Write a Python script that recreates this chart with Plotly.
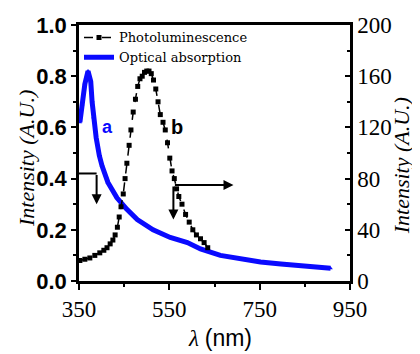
import plotly.graph_objects as go

# Photoluminescence (right axis, A.U. 0-200)
pl_nm = [352, 363, 374, 385, 396, 405, 412, 419, 425, 430, 435, 439, 443, 448, 452, 456,
         461, 465, 470, 475, 480, 485, 490, 495, 500, 505, 510, 515, 520, 525, 530, 536,
         541, 546, 551, 556, 561, 566, 571, 578, 586, 594, 602, 610, 619, 627, 635]
pl_val = [16, 17, 18, 20, 22, 24, 26, 29, 32, 36, 42, 50, 58, 68, 80, 92,
          106, 118, 132, 142, 152, 158, 160, 163, 164, 164, 162, 157, 150, 140, 130, 124,
          118, 108, 96, 86, 80, 72, 66, 60, 52, 46, 40, 36, 33, 30, 26]

# Optical absorption (left axis, A.U. 0-1)
ab_nm = [352, 357, 363, 370, 376, 379, 382, 388, 395, 401, 414, 434, 456, 479, 514, 552,
         590, 619, 663, 707, 752, 797, 841, 878, 907]
ab_val = [0.62, 0.69, 0.77, 0.82, 0.78, 0.70, 0.64, 0.56, 0.49, 0.45, 0.385, 0.325, 0.28, 0.24,
          0.20, 0.17, 0.15, 0.125, 0.10, 0.086, 0.074, 0.066, 0.059, 0.055, 0.05]

x_ticks = [350, 550, 750, 950]
y1_ticks = [0.0, 0.2, 0.4, 0.6, 0.8, 1.0]
y2_ticks = [0, 40, 80, 120, 160, 200]

SERIF = "Liberation Serif"
SANS = "Liberation Sans"
BLUE = "#0a0aff"

fig = go.Figure()
fig.add_trace(go.Scatter(
    x=pl_nm, y=pl_val, yaxis="y2", name="Photoluminescence",
    mode="lines+markers",
    line=dict(color="black", width=1.5, dash="dash"),
    marker=dict(symbol="square", size=5, color="black"),
))
fig.add_trace(go.Scatter(
    x=ab_nm, y=ab_val, yaxis="y", name="Optical absorption",
    mode="lines+markers",
    line=dict(color=BLUE, width=5),
    marker=dict(symbol="triangle-up", size=4, color=BLUE),
))

axis_common = dict(showline=True, linecolor="black", linewidth=2.5, showgrid=False,
                   zeroline=False, tickcolor="black", tickwidth=2, automargin=False)

# page body has an 8px margin, so the figure is 8px smaller and shifted
fig.update_layout(
    width=412, height=346,
    margin=dict(l=71, r=70, t=17, b=73),
    paper_bgcolor="white", plot_bgcolor="white",
    showlegend=True,
    legend=dict(x=0.0, y=1.01, xanchor="left", yanchor="top",
                bgcolor="rgba(0,0,0,0)", font=dict(family="DejaVu Serif", size=13, color="black"),
                tracegroupgap=0, itemwidth=30),
    xaxis=dict(range=[350, 950], tickvals=x_ticks, ticktext=[str(v) for v in x_ticks],
               ticks="outside", ticklen=6, mirror=True,
               minor=dict(dtick=100, tick0=350, ticks="outside", ticklen=3, tickcolor="black", tickwidth=2),
               tickfont=dict(family=SERIF, size=23, color="black"), **axis_common),
    yaxis=dict(range=[0, 1.0], tickvals=y1_ticks, ticktext=["%.1f" % v for v in y1_ticks],
               ticks="outside", ticklen=5,
               minor=dict(dtick=0.1, ticks="outside", ticklen=3, tickcolor="black", tickwidth=2),
               tickfont=dict(family=SANS, size=22, color="black", weight="bold"),
               **axis_common),
    yaxis2=dict(range=[0, 200], tickvals=y2_ticks, ticktext=[str(v) for v in y2_ticks],
                overlaying="y", side="right", ticks="inside", ticklen=5,
                minor=dict(dtick=20, ticks="inside", ticklen=3, tickcolor="black", tickwidth=2),
                tickfont=dict(family=SERIF, size=23, color="black"),
                **axis_common),
)

# axis titles
fig.add_annotation(xref="paper", yref="paper", x=-0.196, y=0.48, xanchor="center", yanchor="middle",
                   showarrow=False, textangle=-90, text="<i>Intensity (A.U.)</i>",
                   font=dict(family=SERIF, size=22, color="black"))
fig.add_annotation(xref="paper", yref="paper", x=1.19, y=0.45, xanchor="center", yanchor="middle",
                   showarrow=False, textangle=-90, text="<i>Intensity (A.U.)</i>",
                   font=dict(family=SERIF, size=22, color="black"))
fig.add_annotation(xref="paper", yref="paper", x=0.52, y=-0.222, xanchor="center", yanchor="middle",
                   showarrow=False, borderpad=0,
                   text="<i>λ</i> <span style='font-family:Liberation Sans'>(nm)</span>",
                   font=dict(family=SERIF, size=23, color="black"))

# curve labels
fig.add_annotation(x=396, y=0.6, xref="x", yref="y", showarrow=False, text="<b>a</b>",
                   xanchor="left", yanchor="middle",
                   font=dict(family=SANS, size=18, color=BLUE))
fig.add_annotation(x=568, y=0.6, xref="x", yref="y", showarrow=False, text="<b>b</b>",
                   xanchor="center", yanchor="middle",
                   font=dict(family=SANS, size=20, color="black"))

# axis-pointing arrows
fig.add_shape(type="line", xref="x", yref="y", x0=350, x1=389, y0=0.42, y1=0.42,
              line=dict(color="black", width=2))
fig.add_annotation(xref="x", yref="y", x=389, y=0.30, axref="x", ayref="y", ax=389, ay=0.42,
                   showarrow=True, arrowhead=2, arrowsize=1, arrowwidth=2, arrowcolor="black", text="")
fig.add_annotation(xref="x", yref="y", x=692, y=0.375, axref="x", ayref="y", ax=559, ay=0.375,
                   showarrow=True, arrowhead=2, arrowsize=1, arrowwidth=2, arrowcolor="black", text="")
fig.add_annotation(xref="x", yref="y", x=559, y=0.24, axref="x", ayref="y", ax=559, ay=0.375,
                   showarrow=True, arrowhead=2, arrowsize=1, arrowwidth=2, arrowcolor="black", text="")

fig.write_html("out.html")
